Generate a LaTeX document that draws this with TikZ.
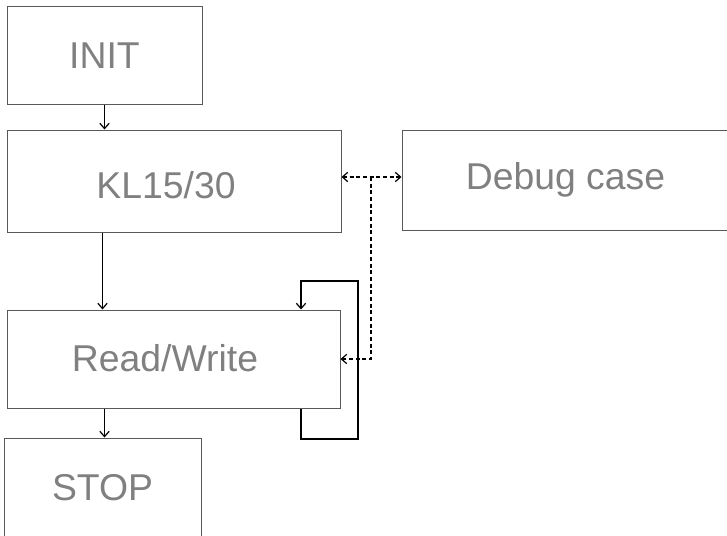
\documentclass[tikz,border=0pt]{standalone}
\usepackage{fontspec}
\setmainfont{Liberation Sans}
\usetikzlibrary{arrows.meta}

\begin{document}
\begin{tikzpicture}[x=0.75pt, y=-0.75pt,
	state/.style={draw=black!65, line width=0.75pt, text=black!50, inner sep=0pt,
		font=\fontsize{28}{32}\selectfont},
	caption/.style={text=black!50, inner sep=0pt, font=\fontsize{28}{32}\selectfont},
	flow/.style={line width=0.9pt, -{Straight Barb[length=4pt,width=7pt]}},
	dbg/.style={line width=0.9pt, densely dashed}]
	\useasboundingbox (0,0) rectangle (727,535);
	\clip (0,0) rectangle (727,535);
	\node[state, minimum width=146.25pt, minimum height=72.75pt] (init) at (104.5,55.5) {INIT};
	\node[state, minimum width=250.5pt, minimum height=76.5pt] (kl) at (174,181) {};
	\node[caption] (kltext) at (166,185) {KL15/30};
	\node[state, minimum width=245.25pt, minimum height=75pt] (debug) at (565.5,180) {Debug case};
	\node[state, minimum width=249.75pt, minimum height=73.5pt] (rw) at (173.5,359) {};
	\node[caption] (rwtext) at (165,358) {Read/Write};
	\node[state, minimum width=147.75pt, minimum height=74.25pt] (stop) at (102.5,487.5) {STOP};
	\coordinate (lb) at (301,439);
	\coordinate (rb) at (358,439);
	\coordinate (rt) at (358,281);
	\coordinate (lt) at (301,281);
	\coordinate (dj) at (371,177);
	\draw [flow] (init.south) -- (init.south |- kl.north);
	\draw [flow] (kl.south -| stop) -- (rw.north -| stop);
	\draw [flow] (rw.south -| init) -- (stop.north -| init);
	\draw [flow] (rw.south -| lb) -- (lb) -- (rb) -- (rt) -- (lt) -- (rw.north -| lt);
	\draw [dbg, {Straight Barb[length=4pt,width=7pt]}-{Straight Barb[length=4pt,width=7pt]}] (kl.east |- dj) -- (debug.west |- dj);
	\draw [dbg, -{Straight Barb[length=4pt,width=7pt]}] (dj) -- (dj |- rw.east) -- (rw.east);
\end{tikzpicture}
\end{document}
